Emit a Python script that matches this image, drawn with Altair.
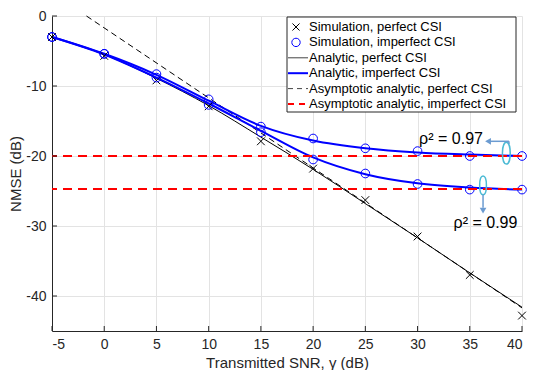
import altair as alt
import pandas as pd

# ---------------- data ----------------
snr = [-5, 0, 5, 10, 15, 20, 25, 30, 35, 40]
sim_perfect = [-3.0, -5.7, -9.2, -12.9, -17.9, -21.8, -26.3, -31.5, -37.0, -42.8]
sim_rho097 = [-3.0, -5.4, -8.3, -11.9, -15.8, -17.5, -18.9, -19.3, -20.0, -20.0]
sim_rho099 = [-3.0, -5.4, -8.8, -12.7, -16.6, -20.5, -22.5, -24.0, -24.8, -24.8]
ana_perfect = [-3.0, -5.5, -8.9, -12.8, -17.3, -21.9, -26.8, -31.7, -36.7, -41.6]
ana_rho097 = [-3.0, -5.4, -8.4, -12.1, -15.7, -17.8, -18.9, -19.5, -19.8, -20.0]
ana_rho099 = [-3.0, -5.5, -8.8, -12.5, -16.4, -20.2, -22.6, -23.9, -24.5, -24.8]
asym_perfect_x = [-1.7, 40.0]
asym_perfect_y = [0.0, -41.7]
asym_imperfect = [-20.0, -24.7]

x_ticks = [-5, 0, 5, 10, 15, 20, 25, 30, 35, 40]
y_ticks = [-40, -30, -20, -10, 0]

legend_labels = [
    "Simulation, perfect CSI",
    "Simulation, imperfect CSI",
    "Analytic, perfect CSI",
    "Analytic, imperfect CSI",
    "Asymptotic analytic, perfect CSI",
    "Asymptotic analytic, imperfect CSI",
]

# annotation anchors (data coordinates)
ann_text = ["ρ² = 0.97", "ρ² = 0.99"]
ann_text_x = [30.15, 33.45]
ann_text_y = [-18.35, -30.35]
ell_x = [38.5, 36.27]
ell_y = [-19.6, -24.2]
ell_size = [470, 350]

# ---------------- styling ----------------
W, H = 470, 315
FONT = "Liberation Sans"
DARK = "#262626"
BLUE = "#0000ff"
RED = "#ff0000"
ELL = "#4dbbd5"
ARR = "#6b9bd1"
CROSS = "M-1,-1L1,1M1,-1L-1,1"
ELLIPSE = "M0,-1C0.48,-1 0.48,1 0,1C-0.48,1 -0.48,-1 0,-1Z"

xs = alt.Scale(domain=[-5, 40], nice=False, zero=False)
ys = alt.Scale(domain=[-45, 0], nice=False, zero=False)
xaxis = alt.Axis(values=x_ticks, title="Transmitted SNR, γ (dB)", labelExpr="''+datum.value",
                 ticks=False, labelPadding=6, titlePadding=4, grid=True)
yaxis = alt.Axis(values=y_ticks, title="NMSE (dB)", labelExpr="''+datum.value",
                 ticks=False, labelPadding=6, titlePadding=2, grid=True)

X = lambda f: alt.X(f, type="quantitative", scale=xs, axis=xaxis)
Y = lambda f: alt.Y(f, type="quantitative", scale=ys, axis=yaxis)

df_perf = pd.DataFrame({"snr": snr, "sim": sim_perfect, "ana": ana_perfect})
df_imp = pd.concat([
    pd.DataFrame({"snr": snr, "sim": sim_rho097, "ana": ana_rho097, "s": "0.97"}),
    pd.DataFrame({"snr": snr, "sim": sim_rho099, "ana": ana_rho099, "s": "0.99"}),
])
df_asym = pd.DataFrame({"snr": asym_perfect_x, "v": asym_perfect_y})
df_red = pd.DataFrame({"v": asym_imperfect})
df_xt = pd.DataFrame({"t": x_ticks})
df_yt = pd.DataFrame({"t": y_ticks})
df_ann = pd.DataFrame({"x": ann_text_x, "y": ann_text_y, "t": ann_text})
df_ell = pd.DataFrame({"x": ell_x, "y": ell_y, "sz": ell_size})
one = pd.DataFrame({"a": [0]})

asym_black = alt.Chart(df_asym).mark_line(color="black", strokeWidth=1, strokeDash=[6, 4]).encode(
    x=X("snr"), y=Y("v"))
ana_black = alt.Chart(df_perf).mark_line(color="black", strokeWidth=1, interpolate="monotone").encode(
    x=X("snr"), y=Y("ana"))
ana_blue = alt.Chart(df_imp).mark_line(color=BLUE, strokeWidth=2, interpolate="monotone").encode(
    x=X("snr"), y=Y("ana"), detail="s:N")
crosses = alt.Chart(df_perf).mark_point(shape=CROSS, size=60, color="black", strokeWidth=1, filled=False, opacity=1).encode(
    x=X("snr"), y=Y("sim"))
circles = alt.Chart(df_imp).mark_point(shape="circle", size=75, color=BLUE, strokeWidth=1, filled=False, opacity=1).encode(
    x=X("snr"), y=Y("sim"))
red = alt.Chart(df_red).mark_rule(color=RED, strokeWidth=2, strokeDash=[9, 6]).encode(y=Y("v"))

xt = alt.Chart(df_xt).mark_rule(color=DARK, strokeWidth=1).encode(
    x=X("t"), y=alt.value(H), y2=alt.value(H - 5))
yt = alt.Chart(df_yt).mark_rule(color=DARK, strokeWidth=1).encode(
    y=Y("t"), x=alt.value(0), x2=alt.value(5))

# annotations
ells = alt.Chart(df_ell).mark_point(shape=ELLIPSE, color=ELL, strokeWidth=1.5, filled=False, opacity=1).encode(
    x=X("x"), y=Y("y"), size=alt.Size("sz:Q", scale=None, legend=None))
arr1 = alt.Chart(pd.DataFrame({"x": [36.9], "x2": [38.75], "y": [-17.9]})).mark_rule(color=ARR, strokeWidth=1.5).encode(
    x=X("x"), x2="x2", y=Y("y"))
arr1b = alt.Chart(pd.DataFrame({"x": [38.75], "y": [-17.9], "y2": [-18.3]})).mark_rule(color=ARR, strokeWidth=1.5).encode(
    x=X("x"), y=Y("y"), y2="y2")
head1 = alt.Chart(pd.DataFrame({"x": [36.75], "y": [-17.9]})).mark_point(shape="triangle-left", size=45, color=ARR, filled=True, opacity=1).encode(
    x=X("x"), y=Y("y"))
arr2 = alt.Chart(pd.DataFrame({"x": [36.27], "y": [-25.55], "y2": [-27.4]})).mark_rule(color=ARR, strokeWidth=1.5).encode(
    x=X("x"), y=Y("y"), y2="y2")
head2 = alt.Chart(pd.DataFrame({"x": [36.27], "y": [-27.8]})).mark_point(shape="triangle-down", size=45, color=ARR, filled=True, opacity=1).encode(
    x=X("x"), y=Y("y"))
ann = alt.Chart(df_ann).mark_text(font=FONT, fontSize=16, color="black", align="left", baseline="alphabetic").encode(
    x=X("x"), y=Y("y"), text="t:N")

# manual legend
LX0, LX1, LY0, LY1 = 235, 464, 1, 96
rows = [11, 26.4, 41.8, 57.2, 72.6, 88]
SX = LX0 + 9
leg = [alt.Chart(one).mark_rect(fill="white", stroke=DARK, strokeWidth=1).encode(
    x=alt.value(LX0), x2=alt.value(LX1), y=alt.value(LY0), y2=alt.value(LY1))]
leg.append(alt.Chart(one).mark_point(shape=CROSS, size=50, color="black", strokeWidth=1, filled=False, opacity=1).encode(
    x=alt.value(SX), y=alt.value(rows[0])))
leg.append(alt.Chart(one).mark_point(shape="circle", size=70, color=BLUE, strokeWidth=1, filled=False, opacity=1).encode(
    x=alt.value(SX), y=alt.value(rows[1])))
leg.append(alt.Chart(one).mark_rule(color="#444444", strokeWidth=1).encode(
    x=alt.value(LX0 + 1), x2=alt.value(LX0 + 21), y=alt.value(rows[2])))
leg.append(alt.Chart(one).mark_rule(color=BLUE, strokeWidth=2).encode(
    x=alt.value(LX0 + 1), x2=alt.value(LX0 + 21), y=alt.value(rows[3])))
leg.append(alt.Chart(one).mark_rule(color="#444444", strokeWidth=1, strokeDash=[5, 4]).encode(
    x=alt.value(LX0 + 1), x2=alt.value(LX0 + 21), y=alt.value(rows[4])))
leg.append(alt.Chart(one).mark_rule(color=RED, strokeWidth=2, strokeDash=[6, 5]).encode(
    x=alt.value(LX0 + 1), x2=alt.value(LX0 + 22), y=alt.value(rows[5])))
for lbl, ry in zip(legend_labels, rows):
    leg.append(alt.Chart(one).mark_text(font=FONT, fontSize=13, color="black", align="left", baseline="middle").encode(
        x=alt.value(LX0 + 22), y=alt.value(ry), text=alt.value(lbl)))

chart = alt.layer(
    asym_black, ana_black, ana_blue, crosses, circles, red, xt, yt,
    ells, arr1, arr1b, head1, arr2, head2, ann, *leg
).properties(
    width=W, height=H,
    background="white",
    autosize=alt.AutoSizeParams(type="none"),
    padding={"left": 44, "top": 8, "right": 7, "bottom": 39},
).configure_view(stroke=None).configure_axis(
    labelFont=FONT, labelFontSize=14, labelColor=DARK,
    titleFont=FONT, titleFontSize=15, titleColor=DARK, titleFontWeight="normal",
    domainColor=DARK, domainWidth=1, gridColor="#e3e3e3", gridWidth=1,
)

chart.save("out.html", embed_options={"renderer": "svg", "actions": False})
